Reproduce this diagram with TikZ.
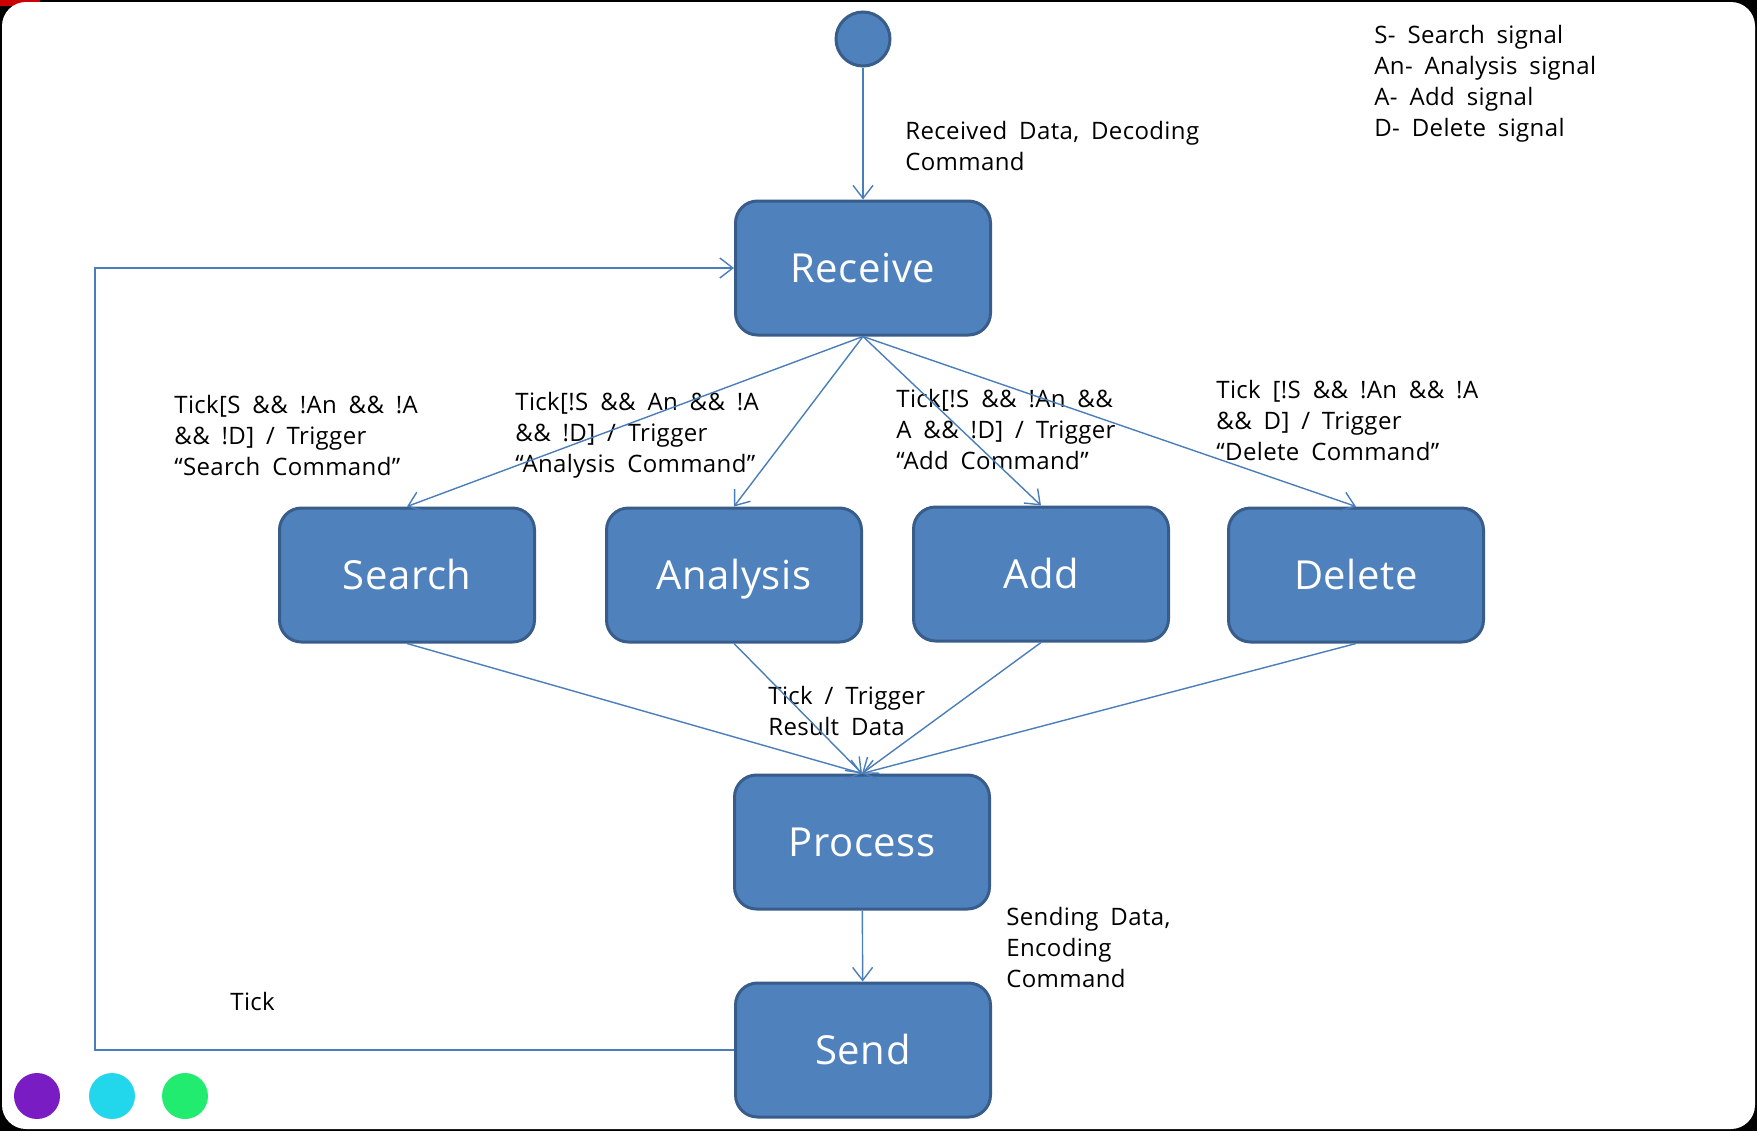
\documentclass[tikz,border=0pt]{standalone}
\usepackage{fontspec}
\setmainfont[WordSpace=1.8,LetterSpace=1.5]{Open Sans}
\usetikzlibrary{arrows.meta}

\definecolor{boxfill}{HTML}{4F81BD}
\definecolor{boxedge}{HTML}{385D8A}
\definecolor{wire}{HTML}{4A7EBB}
\definecolor{dotpurple}{HTML}{7A1CC4}
\definecolor{dotcyan}{HTML}{22D6EC}
\definecolor{dotgreen}{HTML}{22EC70}

\begin{document}
\begin{tikzpicture}
[x=0.5pt,y=-0.5pt,
block/.style ={rectangle, draw=boxedge, fill=boxfill, line width=1.5pt,
rounded corners=11pt, minimum width=127.5pt, minimum height=67pt,
text=white, font=\fontsize{20}{24}\selectfont, inner sep=0pt,
text height=19pt, text depth=4.8pt},
line/.style ={draw=wire, line width=0.7pt, -{Straight Barb[length=6.5pt,width=10pt]}},
note/.style ={align=left, anchor=west, inner sep=0pt,
font=\fontsize{12}{15.5}\selectfont},
dot/.style ={circle, inner sep=0pt, minimum size=23pt}]

% frame
\fill[black] (0,0) rectangle (1757,1131);
\fill[red!80!black] (0,0) rectangle (40,6);
\fill[white, rounded corners=12pt] (2,2) rectangle (1755,1129);

% states
\node [circle, draw=boxedge, fill=boxfill, line width=1.5pt,
minimum size=27pt, inner sep=0pt] (start) at (863,39) {};
\node [block] (recv) at (863,268) {Receive};
\node [block] (search) at (407,575) {Search};
\node [block] (analysis) at (734,575) {Analysis};
\node [block] (add) at (1041,574) {Add};
\node [block] (delete) at (1356,575) {Delete};
\node [block] (process) at (862,842) {Process};
\node [block] (send) at (863,1050) {Send};

% texts
\node [note] (legend) at (1374,84) {S- Search signal\\An- Analysis signal\\A- Add signal\\D- Delete signal};
\node [note] (recvlbl) at (905,146) {Received Data, Decoding\\Command};
\node [note] (searchlbl) at (174,435) {Tick[S \&\& !An \&\& !A\\\&\& !D] / Trigger\\“Search Command”};
\node [note] (analysislbl) at (515,435) {Tick[!S \&\& An \&\& !A\\\&\& !D] / Trigger\\“Analysis Command”};
\node [note] (addlbl) at (896,429) {Tick[!S \&\& !An \&\&\\A \&\& !D] / Trigger\\“Add Command”};
\node [note] (deletelbl) at (1216,420) {Tick [!S \&\& !An \&\& !A\\\&\& D] / Trigger\\“Delete Command”};
\node [note] (resultlbl) at (768,711) {Tick / Trigger\\Result Data};
\node [note] (sendlbl) at (1006,947) {Sending Data,\\Encoding\\Command};
\node [note] (ticklbl) at (230,1001) {Tick};

% transitions
\path [line] (start) -- (recv);
\path [line] (recv.south) -- (search.north);
\path [line] (recv.south) -- (analysis.north);
\path [line] (recv.south) -- (add.north);
\path [line] (recv.south) -- (delete.north);
\path [line] (search.south) -- (process.north);
\path [line] (analysis.south) -- (process.north);
\path [line] (add.south) -- (process.north);
\path [line] (delete.south) -- (process.north);
\path [line] (process) -- (send);
\coordinate (back) at (95,0);
\path [line] (send.west) -- (send.west -| back) -- (recv.west -| back) -- (recv.west);

% window dots
\node [dot, fill=dotpurple] (d1) at (37,1096) {};
\node [dot, fill=dotcyan] (d2) at (112,1096) {};
\node [dot, fill=dotgreen] (d3) at (185,1096) {};
\end{tikzpicture}
\end{document}
